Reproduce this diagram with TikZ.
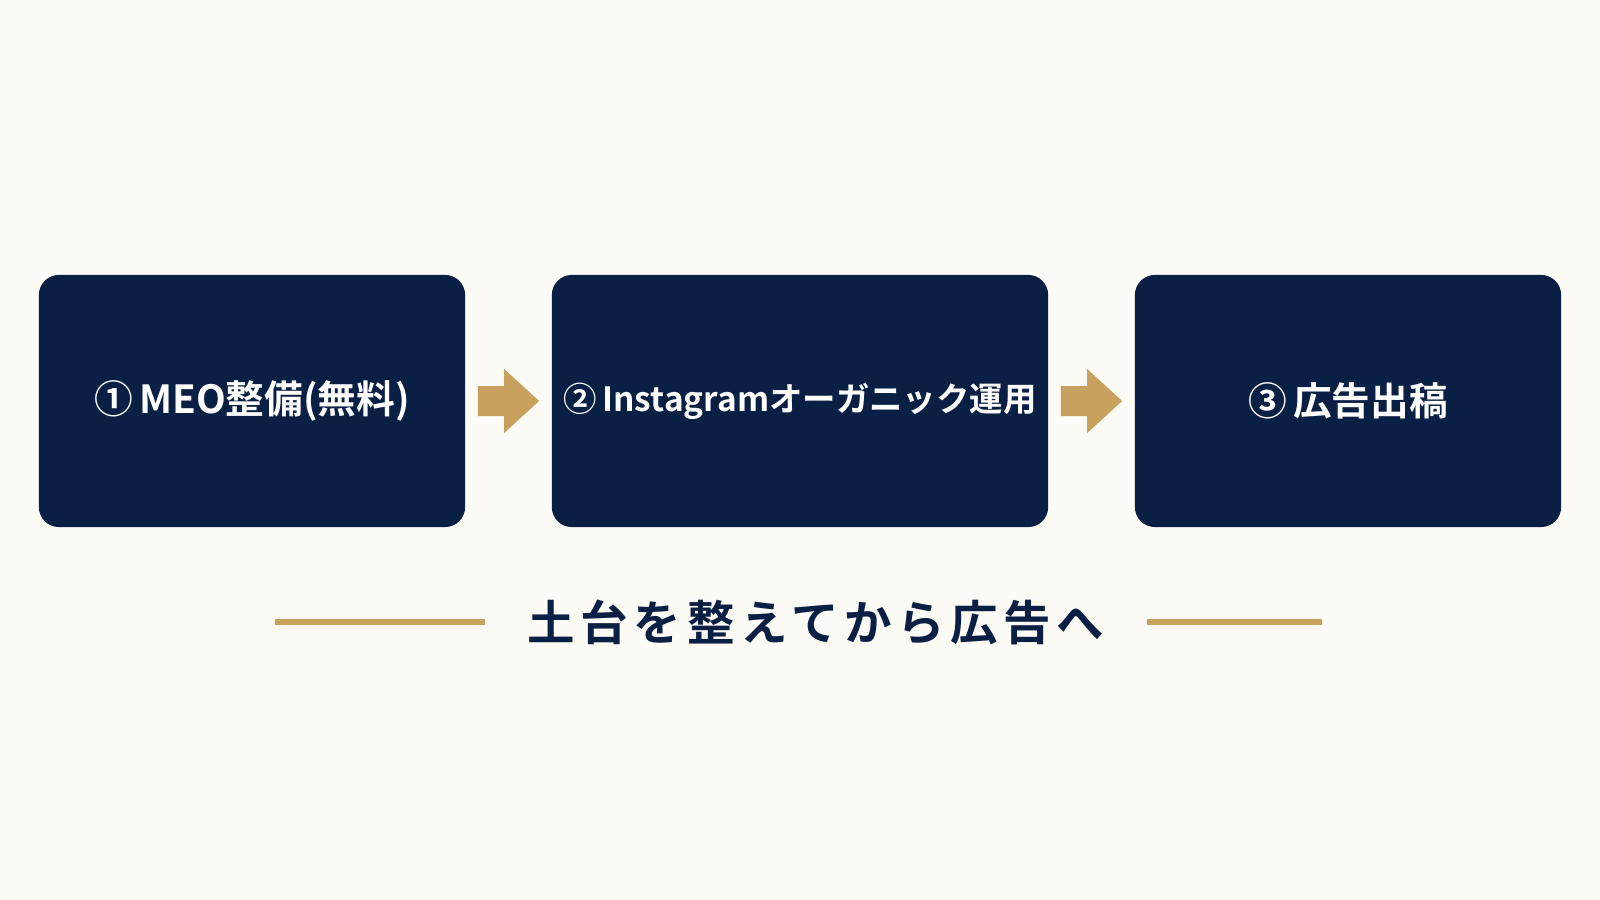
\documentclass[tikz,border=0pt]{standalone}
\usepackage{fontspec}
\setmainfont{Noto Sans CJK JP}[BoldFont={* Bold}]
\usetikzlibrary{calc, positioning}
\definecolor{navy}{HTML}{0A1F44}
\definecolor{gold}{HTML}{C9A15E}
\definecolor{paper}{HTML}{FDFBF5}

\begin{document}
\begin{tikzpicture}[x=0.01cm, y=-0.01cm,
    stage/.style={fill=navy, rounded corners=0.2cm, text=white, font=\bfseries\fontsize{11}{13}\selectfont},
    flow/.style={fill=gold}]
        \fill[paper] (0,0) rectangle (1600,900);
        \useasboundingbox (0,0) rectangle (1600,900);
        % three steps
        \node[stage, minimum width=4.26cm, minimum height=2.52cm] (meo) at (252,401) {①\,MEO整備(無料)};
        \node[stage, minimum width=4.62cm, minimum height=2.52cm] (insta) at (800,401)
            {\fontsize{9.5}{11}\selectfont ②\,Instagramオーガニック運用};
        \node[stage, minimum width=4.26cm, minimum height=2.52cm] (ads) at (1348,401) {③\,広告出稿};
        % arrows between steps
        \foreach \a/\b in {meo/insta, insta/ads} {
            \coordinate (s) at ($(\a.east)+(12,0)$);
            \coordinate (e) at ($(\b.west)+(-12,0)$);
            \fill[flow] ($(s)+(0,-15)$) -- ($(e)+(-35,-15)$) -- ($(e)+(-35,-32)$) -- (e)
                -- ($(e)+(-35,32)$) -- ($(e)+(-35,15)$) -- ($(s)+(0,15)$) -- cycle;
        }
        % summary line
        \node[text=navy, font=\bfseries\fontsize{13.5}{16}\selectfont\addfontfeature{LetterSpace=12}] (sum) at (816,622) {土台を整えてから広告へ};
        \coordinate (l1) at (275,622);
        \coordinate (l2) at (1322,622);
        \draw[gold, line width=1.5pt] (l1) -- ($(sum.west)+(-30,0)$);
        \draw[gold, line width=1.5pt] ($(sum.east)+(30,0)$) -- (l2);
\end{tikzpicture}
\end{document}
